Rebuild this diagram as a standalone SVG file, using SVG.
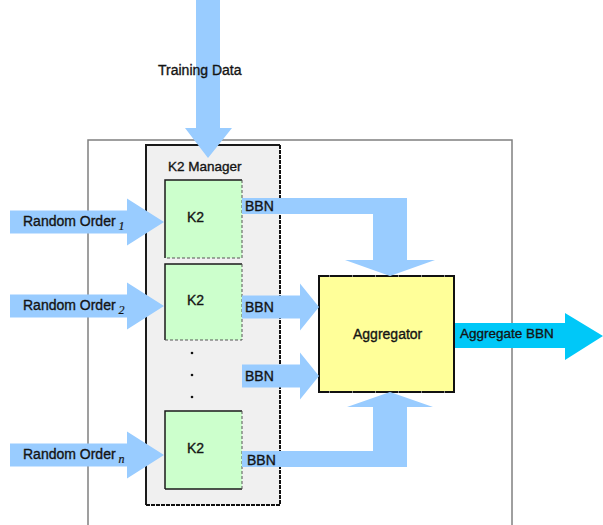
<svg xmlns="http://www.w3.org/2000/svg" width="603" height="525" viewBox="0 0 603 525">
  <style>
    .lbl { font-family: "Liberation Sans", Arial, sans-serif; font-size: 14px; fill: #141414; stroke: #141414; stroke-width: 0.35px; }
    .sub { font-family: "Liberation Serif", "Times New Roman", serif; font-style: italic; font-size: 12px; stroke-width: 0.2px; }
    .flow { fill: #99ccff; }
    .out { fill: #00c8f8; }
    .solid { stroke: #1a1a1a; fill: none; }
    .dash { stroke: #555; fill: none; stroke-dasharray: 3 2; }
  </style>

  <rect width="603" height="525" fill="#ffffff"/>

  <!-- enclosing system frame -->
  <rect id="frame" x="88" y="140" width="424" height="400" fill="none" stroke="#808080" stroke-width="1.5"/>

  <g id="k2-manager">
    <rect x="146" y="145" width="134" height="360" fill="#f0f0f0"/>
    <path class="solid" stroke-width="2" d="M146,505 V145 H280"/>
    <path d="M280,145 V505 H146" fill="none" stroke="#111" stroke-width="2" stroke-dasharray="4 1"/>
    <text class="lbl" x="168" y="171" style="font-size:13.5px">K2 Manager</text>
  </g>

  <g id="k2-1">
    <rect x="165" y="180" width="77" height="78" fill="#ccffcc"/>
    <path class="solid" stroke-width="1.5" d="M165,258 V180 H242"/>
    <path class="dash" d="M242,180 V258 H165"/>
    <text class="lbl" x="187" y="222">K2</text>
  </g>

  <g id="k2-2">
    <rect x="165" y="264" width="77" height="76" fill="#ccffcc"/>
    <path class="solid" stroke-width="1.5" d="M165,340 V264 H242"/>
    <path class="dash" d="M242,264 V340 H165"/>
    <text class="lbl" x="187" y="305">K2</text>
  </g>

  <g id="ellipsis" fill="#111">
    <circle cx="192" cy="353" r="1.3"/>
    <circle cx="192" cy="375" r="1.3"/>
    <circle cx="192" cy="397" r="1.3"/>
  </g>

  <g id="k2-n">
    <rect x="165" y="411" width="77" height="78" fill="#ccffcc"/>
    <path class="solid" stroke-width="1.5" d="M165,489 V411 H242"/>
    <path class="solid" stroke-width="1.5" d="M165,489 H242"/>
    <path class="dash" d="M242,411 V489"/>
    <text class="lbl" x="187" y="453">K2</text>
  </g>

  <g id="aggregator">
    <rect x="319" y="276" width="135" height="116" fill="#ffff99" stroke="#111" stroke-width="2"/>
    <path d="M319,276 H454 M319,392 H454" fill="none" stroke="#ffffff" stroke-width="1" stroke-dasharray="1 22" stroke-dashoffset="-10"/>
    <text class="lbl" x="353" y="339">Aggregator</text>
  </g>

  <g id="connectors">
    <!-- training data feed -->
    <polygon class="flow" points="196,0 220,0 220,128 232,128 208,158 185,128 196,128"/>
    <!-- random order inputs -->
    <polygon class="flow" points="10,210.5 127,210.5 127,198.5 164,222 127,245.5 127,233.5 10,233.5"/>
    <polygon class="flow" points="10,294.5 127,294.5 127,282.5 164,306 127,329.5 127,317.5 10,317.5"/>
    <polygon class="flow" points="10,443.5 127,443.5 127,431.5 164,455 127,478.5 127,466.5 10,466.5"/>
    <!-- BBN outputs into aggregator -->
    <polygon class="flow" points="242,198 407,198 407,260 435,260 390,276 345,260 373,260 373,214 242,214"/>
    <polygon class="flow" points="242,295.5 300,295.5 300,283.5 319,307 300,330.5 300,318.5 242,318.5"/>
    <polygon class="flow" points="242,364.5 300,364.5 300,352.5 319,376 300,399.5 300,387.5 242,387.5"/>
    <polygon class="flow" points="242,467 407,467 407,407 433,407 390,392 347,407 373,407 373,451 242,451"/>
    <!-- aggregate output -->
    <polygon class="out" points="455,323 565,323 565,313 603,336 565,360 565,348 455,348"/>
  </g>

  <g id="labels">
    <text class="lbl" x="158" y="75">Training Data</text>
    <text class="lbl" x="23" y="226">Random Order<tspan class="sub" dx="3" dy="4">1</tspan></text>
    <text class="lbl" x="23" y="310">Random Order<tspan class="sub" dx="3" dy="4">2</tspan></text>
    <text class="lbl" x="23" y="459">Random Order<tspan class="sub" dx="3" dy="4">n</tspan></text>
    <text class="lbl" x="245" y="211">BBN</text>
    <text class="lbl" x="245" y="312">BBN</text>
    <text class="lbl" x="245" y="381">BBN</text>
    <text class="lbl" x="247" y="465">BBN</text>
    <text class="lbl" x="460" y="338" style="font-size:13.5px">Aggregate BBN</text>
  </g>
</svg>
